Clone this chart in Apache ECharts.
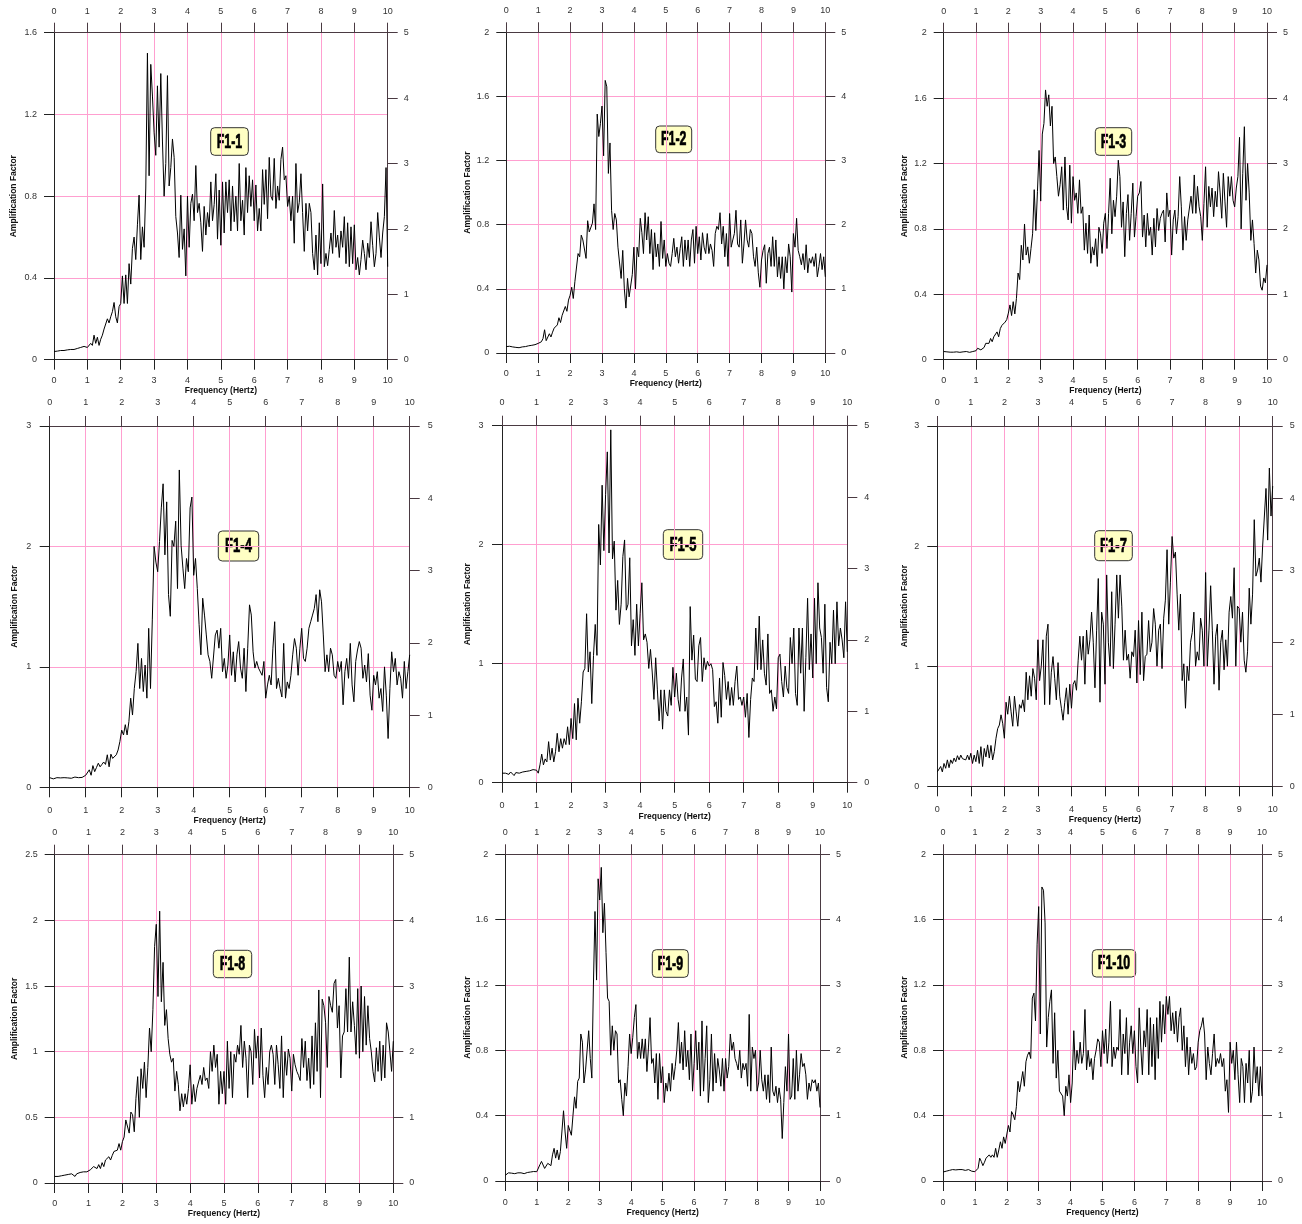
<!DOCTYPE html>
<html><head><meta charset="utf-8">
<script src="https://cdn.jsdelivr.net/npm/echarts@6/dist/echarts.min.js"></script>
<style>html,body{margin:0;padding:0;background:#fff}#c{width:1302px;height:1224px}</style>
</head><body><div id="c"></div><script>
// ---- DATA (amplification factor, sampled every 0.05 Hz from 0 to 10 Hz) ----
const panelLabels = ['F1-1','F1-2','F1-3','F1-4','F1-5','F1-7','F1-8','F1-9','F1-10'];
const yMaxes = [1.6, 2, 2, 3, 3, 3, 2.5, 2, 2];
const yIntervals = [0.4, 0.4, 0.4, 1, 1, 1, 0.5, 0.4, 0.4];
const rightMax = 5, rightInterval = 1;
const freqMin = 0, freqMax = 10, freqInterval = 1;

const f1_1 = [.040,.040,.042,.040,.045,.042,.045,.040,.048,.043,
.050,.045,.050,.048,.055,.050,.060,.052,.065,.058,
.060,.055,.080,.070,.120,.080,.110,.070,.100,.120,
.150,.145,.200,.180,.210,.235,.280,.210,.180,.260,
.275,.410,.275,.415,.275,.470,.370,.545,.600,.490,
.660,.805,.490,.650,.550,.840,1.50,.900,1.445,1.29,
1.11,1.00,1.34,1.04,1.40,1.07,.800,.960,1.39,.850,
.940,1.08,.990,.700,.620,.500,.805,.540,.640,.410,
.800,.550,.765,.810,.680,.950,.720,.765,.670,.530,
.750,.610,.720,.650,.870,.680,.760,.910,.590,.830,
.560,.870,.620,.870,.720,.880,.630,.850,.675,.800,
.630,.960,.680,.780,.610,.940,.720,.900,.750,.880,
.680,.855,.630,.740,.630,.930,.760,.930,.690,.990,
.800,.780,.985,.740,.850,.780,.980,1.04,.880,.900,
.750,.800,.680,.800,.570,.960,.720,.770,.910,.720,
.530,.765,.630,.765,.720,.520,.440,.610,.415,.670,
.470,.860,.455,.520,.460,.540,.620,.520,.730,.550,
.610,.500,.630,.550,.700,.470,.670,.455,.650,.470,
.660,.440,.500,.415,.490,.585,.520,.440,.570,.500,
.675,.560,.455,.520,.720,.600,.500,.620,.700,.940,
.455];

const f1_2 = [.040,.040,.042,.040,.038,.040,.035,.038,.033,.035,.038,.036,.040,.042,.045,.043,.048,.046,.052,.055,
.060,.058,.070,.090,.145,.077,.080,.120,.100,.130,.155,.165,.175,.220,.190,.235,.245,.290,.260,.330,
.360,.410,.340,.445,.455,.620,.600,.735,.705,.705,.590,.825,.755,.745,.810,.930,.770,1.49,1.35,1.43,
1.54,1.23,1.70,1.66,1.12,1.31,.890,.770,.870,.830,.660,.660,.465,.640,.400,.280,.465,.350,.360,.490,
.660,.400,.660,.600,.840,.750,.620,.875,.705,.850,.620,.770,.520,.750,.600,.680,.540,.820,.590,.705,
.540,.620,.560,.540,.620,.715,.600,.660,.560,.650,.725,.540,.705,.580,.705,.540,.705,.770,.560,.790,
.620,.725,.580,.750,.660,.620,.745,.620,.680,.640,.540,.745,.790,.770,.875,.680,.790,.600,.745,.540,
.870,.660,.705,.745,.890,.680,.660,.830,.560,.680,.830,.705,.660,.770,.745,.600,.540,.660,.500,.410,
.580,.640,.675,.435,.620,.660,.540,.725,.540,.705,.475,.600,.465,.600,.400,.600,.500,.680,.600,.380,
.745,.660,.840,.640,.600,.550,.620,.520,.675,.500,.590,.560,.600,.540,.620,.475,.540,.620,.520,.600,.475];

const f1_3 = [.050,.052,.048,.050,.046,.048,.046,.050,.048,.050,.045,.050,.048,.052,.050,.050,.045,.052,.050,.050,
.055,.070,.063,.060,.070,.075,.100,.110,.100,.130,.110,.140,.130,.170,.140,.190,.210,.220,.230,.245,
.285,.335,.270,.355,.280,.375,.530,.490,.700,.610,.830,.640,.690,.590,.680,.770,1.04,.790,1.03,1.28,
.970,1.38,1.445,1.65,1.55,1.62,1.43,1.55,1.20,1.24,1.12,1.00,1.07,1.18,.915,1.24,.935,.855,1.19,.835,
1.12,.975,1.02,.895,1.10,.895,.935,.670,.835,.650,.885,.590,.690,.640,.740,.570,.810,.770,.650,.835,
.895,.680,.895,1.11,.770,.975,.875,1.00,1.22,1.12,.810,.965,.630,.895,1.01,.730,.895,1.08,.750,.875,
1.00,1.02,1.09,.750,.885,.690,.895,.760,.810,.640,.865,.690,.925,.790,.865,.895,.915,.720,1.02,.875,
.915,.640,.855,.915,.770,.875,1.12,.935,.670,.875,.730,.855,.855,1.00,.895,1.13,.895,1.06,.935,.875,
.730,.955,1.18,.810,1.06,.935,1.05,.875,1.03,.935,1.15,1.02,.865,1.14,.965,.810,1.12,1.00,1.12,.975,
.935,1.05,1.12,1.36,.800,1.14,1.425,.975,1.20,1.02,.730,.855,.710,.530,.670,.610,.450,.425,.500,.470,.580];

const f1_4 = [.080,.075,.070,.075,.080,.072,.078,.075,.080,.075,.078,.080,.075,.080,.085,.078,.080,.090,.082,.090,
.100,.115,.145,.100,.180,.130,.165,.200,.170,.190,.210,.190,.270,.170,.275,.240,.245,.270,.310,.380,
.475,.435,.520,.435,.545,.740,.600,.820,.960,1.195,.820,1.07,.795,1.015,.740,1.32,.820,1.39,2.00,1.87,
1.79,2.04,2.32,2.52,1.93,2.37,1.60,1.42,2.05,2.00,2.21,1.65,2.635,2.01,1.82,1.65,1.90,1.79,2.32,2.41,
1.76,1.90,1.65,1.35,1.10,1.57,1.43,1.265,1.10,1.045,.905,.890,1.265,1.305,1.155,1.32,.960,1.07,.905,1.015,
1.265,.930,1.125,.875,1.10,1.21,.990,.905,1.155,.795,1.155,1.515,1.43,1.125,.990,1.045,.990,.990,.930,1.045,
.740,.850,.930,.850,1.155,1.375,.820,.905,.820,.750,1.195,.740,.875,.820,.930,1.10,1.235,1.155,.930,1.155,
1.32,1.07,1.045,1.155,1.32,1.375,1.43,1.485,1.60,1.375,1.64,1.54,1.265,.960,1.10,.960,1.155,1.10,.930,.905,
1.045,.960,1.045,.685,.960,1.07,.905,1.195,.850,.710,1.045,1.14,1.21,1.155,.905,1.015,.875,1.11,.765,.640,
.930,.850,.960,.740,.820,.630,1.00,.765,.405,.820,1.125,.960,1.07,.850,.960,.905,.740,1.045,.820,.960,1.10];

const f1_5 = [.08,.075,.08,.085,.07,.09,.08,.06,.085,.09,.08,.075,.09,.085,.095,.09,.10,.085,.11,.10,
.105,.08,.15,.24,.15,.20,.175,.345,.19,.29,.175,.26,.415,.26,.37,.29,.37,.32,.47,.32,
.54,.37,.665,.36,.71,.50,.68,.93,.96,1.42,.93,1.10,.665,1.07,1.33,1.07,
2.17,1.83,2.5,1.95,2.42,2.78,1.93,2.965,1.88,2.03,1.45,1.7,1.33,1.5,1.9,2.04,1.45,1.5,1.89,1.15,1.37,1.07,1.5,1.15,
1.42,1.68,1.2,1.25,1.18,.96,1.12,.93,.70,1.05,.78,.52,.78,.45,.78,.6,.56,.78,.65,.97,
.72,.92,.7,.6,.88,1.04,.6,.72,.4,1.48,1.03,1.24,.87,.85,1.15,1.22,.85,1.05,.95,1.02,
.98,1.0,.95,.64,.68,.5,.88,.55,1.01,.9,.7,.85,.65,.8,.65,.85,.98,.7,.72,.65,
.72,.55,.75,.38,.7,.88,.85,1.3,.95,1.4,.95,1.2,.92,.82,1.25,.75,.78,.6,.72,.62,
1.05,1.08,.85,.72,.98,.8,.75,1.22,1.0,1.3,.75,.65,1.3,.92,1.3,.6,1.05,1.55,.95,1.25,
.88,1.55,1.0,1.68,1.3,1.22,.92,1.5,.8,.68,1.18,1.0,1.45,1.0,1.52,1.15,1.3,1.2,1.05,1.52,1.1];

const f1_7 = [.12,.11,.165,.12,.19,.15,.22,.155,.22,.19,.235,.205,.255,.22,.26,.23,.245,.22,.26,.22,
.275,.19,.26,.205,.30,.19,.33,.165,.315,.245,.345,.235,.34,.22,.29,.40,.48,.51,.595,.525,
.40,.70,.60,.75,.62,.50,.75,.62,.50,.68,.65,.72,.62,.95,.72,.92,.75,.98,.90,.72,
1.22,.88,1.0,1.22,.68,1.25,1.35,.68,.95,1.08,.9,.72,1.03,.75,.65,.55,.7,.82,.6,.85,
.65,.85,.88,.8,1.05,1.25,1.05,1.25,.85,1.3,1.1,1.22,1.45,1.2,.82,1.3,1.73,.7,1.45,1.35,
.85,1.76,1.2,1.0,1.62,.98,1.35,1.76,1.4,1.76,1.5,1.05,1.3,1.05,1.1,.9,1.12,1.08,1.3,.86,
1.38,.93,1.45,.88,1.08,1.1,1.38,1.12,1.2,1.48,1.35,1.0,1.3,1.35,.98,1.4,1.55,1.97,1.35,1.7,
2.08,1.9,1.95,1.6,1.3,1.6,.88,1.02,.65,1.0,.88,1.2,1.28,1.45,1.0,1.12,1.05,1.4,1.3,1.0,
1.78,1.0,1.3,1.67,1.3,.85,1.25,1.35,.8,1.2,1.3,.97,1.22,1.0,1.45,1.58,1.4,1.82,1.0,1.5,
1.48,1.2,1.45,1.05,.95,1.12,1.65,1.35,1.6,2.22,1.75,1.8,1.9,1.7,2.0,2.0,2.48,2.05,2.65,2.25,2.5];

const f1_8 = [.05,.055,.05,.06,.055,.065,.06,.06,.065,.06,.07,.06,.05,.07,.075,.08,.07,.085,.09,.085,
.085,.10,.085,.125,.14,.11,.14,.11,.155,.125,.175,.16,.20,.175,.21,.24,.225,.25,.30,.25,
.315,.35,.48,.465,.38,.54,.52,.39,.645,.81,.5,.87,.72,.92,.65,.88,1.18,1.0,1.32,1.8,
1.97,1.42,2.07,1.38,1.68,1.2,1.32,1.1,.98,.92,.95,.7,.85,.75,.55,.68,.58,.68,.6,.72,
.9,.6,.75,.62,.72,.72,.82,.75,.88,.78,.8,.72,1.0,.85,1.05,.88,.98,.6,.85,.68,
.85,.6,1.08,.72,1.0,.65,.98,.92,1.05,.98,1.2,.88,1.08,.95,.65,1.05,1.0,.75,1.17,.95,
1.12,.8,1.18,.82,.65,.88,.75,1.0,1.05,.98,.75,1.05,.9,.72,1.12,.65,1.0,.82,1.02,.95,
.7,.98,.9,.85,.82,.78,1.1,.88,1.08,.78,.95,.72,1.12,.75,1.22,.85,1.47,.65,1.4,1.35,
1.22,.88,1.42,1.35,1.3,1.52,1.55,1.18,1.35,.8,1.12,1.15,1.48,1.15,1.72,1.15,1.38,1.2,.98,1.48,
.95,1.5,1.0,1.42,1.05,1.35,1.1,1.0,.85,.77,1.03,.85,1.08,.78,1.05,.8,1.22,1.15,1.0,.85,1.08];

const f1_9 = [.035,.045,.05,.045,.048,.05,.045,.048,.05,.045,.05,.048,.045,.05,.052,.05,.055,.05,.058,.055,
.057,.067,.10,.12,.13,.077,.088,.108,.098,.094,.16,.20,.14,.19,.13,.18,.17,.43,.30,.20,
.34,.35,.28,.40,.515,.445,.61,.63,.90,.85,.60,.68,.80,.92,.75,.63,1.20,1.65,1.23,1.85,
1.72,1.92,1.52,1.70,1.40,1.12,1.10,.77,.95,.80,.92,.90,.60,.62,.50,.40,.60,.52,.70,.90,
.78,.88,1.0,1.08,.75,.85,.75,.87,.75,.87,.67,.82,1.0,.72,.75,.60,.78,.50,.78,.60,
.70,.48,.60,.55,.66,.55,.72,.62,.70,.80,.97,.72,.85,.68,.92,.70,.80,.62,.90,.55,
.72,.92,.68,.85,.52,.98,.55,.75,.95,.48,.62,.9,.55,.78,.6,.75,.68,.58,.75,.55,
.75,.63,.7,.9,.8,.85,.75,.72,.68,.8,.63,.72,.68,.72,.58,1.02,.55,.82,.75,.8,
.55,.6,.8,.62,.55,.65,.5,.65,.48,.82,.55,.52,.58,.48,.57,.5,.26,.48,.7,.55,
.9,.5,.52,.75,.5,.8,.55,.65,.78,.7,.72,.65,.5,.6,.55,.62,.6,.62,.55,.6,.45];

const f1_10 = [.055,.065,.06,.068,.065,.062,.07,.065,.068,.062,.07,.065,.07,.072,.065,.06,.07,.065,.06,.065,
.057,.067,.078,.14,.12,.094,.115,.14,.13,.16,.145,.16,.145,.20,.145,.19,.24,.20,.27,.23,
.22,.34,.30,.425,.405,.375,.455,.61,.545,.535,.67,.58,.73,.77,.79,.75,1.12,1.15,.98,1.45,
1.68,.90,1.80,1.78,1.58,.82,1.0,1.10,1.17,.72,1.03,.63,.80,.55,.55,.52,.40,.58,.52,.65,
.48,.60,.92,.68,.80,.72,.85,.72,.78,1.05,.68,.80,.70,.75,.62,.75,.80,.87,.85,.70,
.92,.78,.93,.72,.85,1.10,.70,.82,.75,.82,.80,1.05,.65,.90,.78,1.0,.65,.85,.95,.78,
.92,.70,.60,1.06,.82,.65,.92,.82,1.05,.65,1.0,.70,.96,.62,1.0,.75,1.1,.85,1.08,.9,
1.13,1.02,1.13,.92,1.03,.9,1.04,.85,1.0,1.06,.8,.95,.7,.88,.65,.82,.72,.78,.68,.7,
.85,.92,.95,1.0,.9,.62,.82,.72,.65,.78,.9,.7,.75,.72,.78,.7,.75,.55,.62,.42,
.85,.72,.8,.62,.85,.65,.48,.75,.7,.48,.72,.6,.8,.48,.55,.82,.6,.7,.52,.7,.52];

const panelData = [f1_1, f1_2, f1_3, f1_4, f1_5, f1_7, f1_8, f1_9, f1_10];

// ---- LAYOUT (pixels) ----
const layout = [
  {l:54,   t:32.7,  w:333.7, h:327,   yg:36, xg:26, bm:16.5, tm:17, lm:17,   rm:16},
  {l:506.3,t:32.3,  w:319,   h:320.7, yg:34, xg:26, bm:16.5, tm:17, lm:17,   rm:16},
  {l:943.7,t:32.7,  w:323.3, h:327,   yg:35, xg:26, bm:16.5, tm:17, lm:17,   rm:16},
  {l:49.7, t:426,   w:360,   h:361.3, yg:31, xg:29, bm:19,   tm:19, lm:18.5, rm:18},
  {l:502,  t:425.7, w:345.3, h:357,   yg:30, xg:29, bm:18.5, tm:19, lm:18.5, rm:17},
  {l:937.3,t:426,   w:335.4, h:360.3, yg:28, xg:29, bm:19,   tm:19, lm:18,   rm:17},
  {l:54.7, t:854.7, w:338.6, h:328.3, yg:36, xg:26, bm:16.5, tm:18, lm:17,   rm:16},
  {l:505.3,t:854.3, w:314.7, h:326.7, yg:33, xg:27, bm:17.5, tm:17.5,lm:17,  rm:16},
  {l:943,  t:854.3, w:319,   h:326.7, yg:34, xg:27, bm:17.5, tm:17.5,lm:17,  rm:16}
];
// label boxes: x, y, width, height, font size
const boxes = [
  {x:210.7, y:127.7, w:37.6, h:27.6, fs:20},
  {x:655.7, y:126,   w:36,   h:26.7, fs:20},
  {x:1095.3,y:127.7, w:36.4, h:27.6, fs:20},
  {x:218.3, y:531,   w:40.4, h:30,   fs:21},
  {x:663.3, y:529.7, w:39.4, h:29.6, fs:21},
  {x:1094.7,y:530.7, w:37.6, h:30,   fs:21},
  {x:213.3, y:950.3, w:38.4, h:27.4, fs:20},
  {x:652.3, y:949.7, w:36,   h:27.6, fs:20},
  {x:1092.3,y:949.7, w:43.4, h:27.3, fs:20}
];

const PINK = '#ff9fd0';
const AXIS = '#222';
const AXIS2 = '#4a3a42';
const FONT = '"Liberation Sans", Arial, sans-serif';
const LBL = {fontSize: 9, color: '#333', fontFamily: FONT};
const NAME = {fontSize: 8.5, fontWeight: 'bold', color: '#111', fontFamily: FONT};

const grids = [], xAxes = [], yAxes = [], series = [], graphics = [];
panelData.forEach((arr, i) => {
  const L = layout[i];
  grids.push({left: L.l, top: L.t, width: L.w, height: L.h, containLabel: false, outerBoundsMode: 'none'});
  const tick = (c) => ({show: true, inside: false, length: 10, lineStyle: {color: c, width: 1}});
  xAxes.push({
    gridIndex: i, type: 'value', position: 'bottom', min: freqMin, max: freqMax, interval: freqInterval,
    name: 'Frequency (Hertz)', nameLocation: 'middle', nameGap: L.xg, nameTextStyle: NAME, nameMoveOverlap: false,
    axisLine: {show: true, onZero: false, lineStyle: {color: AXIS, width: 1}},
    axisTick: tick(AXIS), axisLabel: Object.assign({margin: L.bm}, LBL),
    splitLine: {show: true, lineStyle: {color: PINK, width: 1}}
  });
  xAxes.push({
    gridIndex: i, type: 'value', position: 'top', min: freqMin, max: freqMax, interval: freqInterval,
    axisLine: {show: true, onZero: false, lineStyle: {color: AXIS2, width: 1}},
    axisTick: tick(AXIS2), axisLabel: Object.assign({margin: L.tm}, LBL),
    splitLine: {show: false}
  });
  yAxes.push({
    gridIndex: i, type: 'value', position: 'left', min: 0, max: yMaxes[i], interval: yIntervals[i],
    name: 'Amplification Factor', nameLocation: 'middle', nameGap: L.yg, nameTextStyle: NAME, nameMoveOverlap: false,
    axisLine: {show: true, onZero: false, lineStyle: {color: AXIS, width: 1}},
    axisTick: tick(AXIS), axisLabel: Object.assign({margin: L.lm}, LBL),
    splitLine: {show: true, lineStyle: {color: PINK, width: 1}}
  });
  yAxes.push({
    gridIndex: i, type: 'value', position: 'right', min: 0, max: rightMax, interval: rightInterval,
    axisLine: {show: true, onZero: false, lineStyle: {color: AXIS2, width: 1}},
    axisTick: tick(AXIS2), axisLabel: Object.assign({margin: L.rm}, LBL),
    splitLine: {show: false}
  });
  const n = arr.length;
  series.push({
    type: 'line', xAxisIndex: 2 * i, yAxisIndex: 2 * i,
    data: arr.map((v, k) => [freqMin + k * (freqMax - freqMin) / (n - 1), v]),
    symbol: 'none', showSymbol: false, smooth: false,
    lineStyle: {color: '#000', width: 1}, z: 5
  });
  const B = boxes[i];
  graphics.push({
    type: 'group', x: B.x, y: B.y, z: 100,
    children: [
      {type: 'rect', shape: {x: 0, y: 0, width: B.w, height: B.h, r: 4},
       style: {fill: '#ffffc4', stroke: '#333', lineWidth: 1}},
      {type: 'text', x: B.w / 2, y: B.h / 2 + 0.5, scaleX: 0.62,
       style: {text: panelLabels[i], fill: '#000', stroke: '#000', lineWidth: 0.7,
         font: 'bold ' + B.fs + 'px "Liberation Sans", Arial, sans-serif',
         align: 'center', verticalAlign: 'middle', textAlign: 'center', textVerticalAlign: 'middle'}}
    ]
  });
});

const chart = echarts.init(document.getElementById('c'), null, {renderer: 'canvas'});
chart.setOption({
  animation: false,
  backgroundColor: '#fff',
  grid: grids,
  xAxis: xAxes,
  yAxis: yAxes,
  series: series,
  graphic: {elements: graphics}
});
</script></body></html>
